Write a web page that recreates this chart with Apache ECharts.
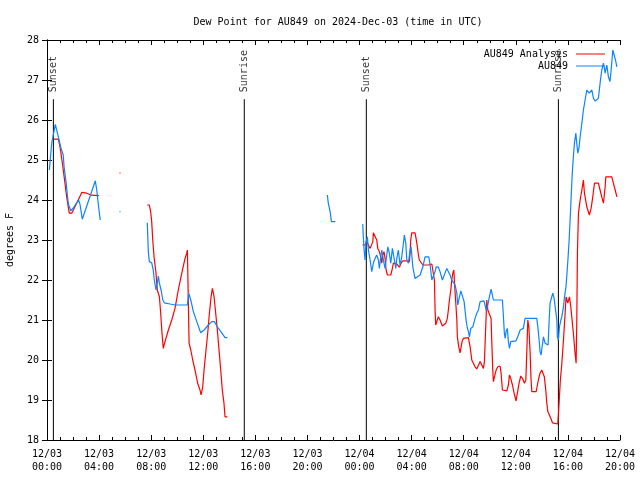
<!DOCTYPE html>
<html>
<head>
<meta charset="utf-8">
<script src="https://cdn.jsdelivr.net/npm/echarts@6/dist/echarts.min.js"></script>
<style>html,body{margin:0;padding:0;background:#fff}#c{width:640px;height:480px}</style>
</head>
<body>
<div id="c"></div>
<script>
// Hours since 2024-12-03 00:00 UTC, dew point in degrees F. null = gap in data.
const analysisPoints = [
  [0.48,25.52],[0.87,25.52],[1.00,25.33],[1.18,24.92],[1.38,24.42],[1.51,24.08],[1.71,23.67],[1.90,23.67],
  [2.28,23.92],[2.67,24.19],[3.05,24.17],[3.43,24.12],[3.99,24.11],
  null,
  [5.57,24.67],[5.64,24.67],
  null,
  [7.70,23.875],[7.86,23.875],[7.96,23.71],[8.04,23.46],[8.12,23.0],[8.22,22.58],[8.37,22.17],[8.47,21.75],
  [8.63,21.58],[8.73,21.17],[8.83,20.67],[8.93,20.29],[9.06,20.46],[9.32,20.75],[9.58,21.0],[9.83,21.29],
  [10.08,21.75],[10.35,22.17],[10.60,22.54],[10.73,22.67],[10.78,22.75],[10.85,21.5],[10.91,20.42],[11.04,20.25],
  [11.19,20.0],[11.39,19.71],[11.57,19.42],[11.75,19.25],[11.83,19.125],[11.96,19.33],[12.06,19.75],[12.21,20.25],
  [12.34,20.67],[12.47,21.17],[12.60,21.58],[12.70,21.79],[12.83,21.58],[12.93,21.25],[13.08,20.75],[13.21,20.25],
  [13.34,19.75],[13.46,19.25],[13.59,18.92],[13.67,18.58],[13.85,18.58],
  null,
  [24.22,22.875],[24.42,22.875],[24.55,22.96],[24.68,22.875],[24.81,22.79],[24.94,22.77],[25.02,22.96],[25.06,23.18],
  [25.21,23.18],[25.32,23.0],[25.40,22.79],[25.52,22.71],[25.63,22.58],[25.71,22.42],[25.78,22.625],[25.88,22.71],
  [25.96,22.54],[26.04,22.25],[26.14,22.125],[26.40,22.125],[26.52,22.29],[26.60,22.42],[26.73,22.375],[26.86,22.4],
  [26.98,22.35],[27.06,22.32],[27.19,22.42],[27.32,22.48],[27.44,22.5],[27.63,22.48],[27.83,22.46],[27.88,22.67],
  [27.93,23.0],[28.01,23.18],[28.26,23.18],[28.34,23.04],[28.44,22.83],[28.52,22.625],[28.59,22.5],[28.70,22.46],
  [28.86,22.375],[28.96,22.35],[29.29,22.375],[29.55,22.4],[29.67,22.375],[29.75,22.0],[29.80,21.25],[29.85,20.875],
  [29.93,20.96],[30.05,21.08],[30.18,21.0],[30.36,20.85],[30.51,20.85],[30.62,20.92],[30.74,21.04],[30.82,21.25],
  [30.90,21.5],[31.01,21.75],[31.08,22.0],[31.16,22.17],[31.24,22.25],[31.28,22.0],[31.34,21.67],[31.41,21.33],
  [31.47,21.0],[31.51,20.58],[31.62,20.33],[31.72,20.18],[31.80,20.18],[31.87,20.46],[31.97,20.54],[32.36,20.56],
  [32.49,20.33],[32.62,20.0],[32.74,19.92],[32.87,19.83],[33.00,19.775],[33.13,19.775],[33.26,19.96],[33.39,19.875],
  [33.51,19.79],[33.59,19.96],[33.66,20.58],[33.77,21.5],[33.85,21.25],[33.97,21.21],[34.10,21.04],[34.15,20.5],
  [34.23,19.75],[34.28,19.46],[34.36,19.58],[34.49,19.75],[34.62,19.83],[34.79,19.85],[34.87,19.67],[34.97,19.25],
  [35.31,19.23],[35.43,19.375],[35.51,19.625],[35.61,19.54],[35.74,19.375],[35.87,19.17],[36.02,18.975],[36.12,19.17],
  [36.25,19.42],[36.38,19.6],[36.54,19.52],[36.66,19.42],[36.77,19.5],[36.84,20.17],[36.92,21.0],[37.00,20.83],
  [37.10,20.17],[37.17,19.5],[37.23,19.21],[37.56,19.21],[37.66,19.375],[37.73,19.5],[37.86,19.67],[37.99,19.75],
  [38.12,19.775],[38.19,19.58],[38.30,19.25],[38.38,18.92],[38.46,18.71],[38.58,18.67],[38.69,18.54],[38.81,18.43],
  [38.96,18.4],[39.22,18.4],[39.27,18.625],[39.35,19.08],[39.42,19.5],[39.53,19.9],[39.66,20.5],[39.79,21.2],
  [39.86,21.58],[39.99,21.42],[40.12,21.58],[40.22,21.33],[40.32,21.0],[40.42,20.67],[40.55,20.17],[40.63,19.92],
  [40.68,20.92],[40.73,22.67],[40.81,23.67],[40.94,24.0],[41.07,24.25],[41.19,24.5],[41.27,24.17],[41.45,23.83],
  [41.65,23.625],[41.78,23.79],[41.91,24.08],[42.04,24.42],[42.34,24.42],[42.47,24.25],[42.60,24.08],[42.73,23.92],
  [42.86,24.33],[42.91,24.58],[43.37,24.58],[43.49,24.42],[43.63,24.25],[43.76,24.08]
];
const stationPoints = [
  [0.18,24.75],[0.36,25.42],[0.64,25.89],[0.87,25.58],[1.08,25.29],[1.25,25.12],[1.31,24.83],[1.46,24.46],
  [1.51,24.3],[1.64,23.9],[1.82,23.73],[2.02,23.8],[2.42,24.0],[2.53,23.9],[2.71,23.52],[3.71,24.48],
  [3.82,24.25],[3.96,23.83],[4.09,23.5],
  null,
  [5.57,23.71],[5.64,23.71],
  null,
  [7.70,23.43],[7.78,22.71],[7.86,22.46],[8.04,22.43],[8.16,22.25],[8.24,22.0],[8.37,21.75],[8.47,21.92],
  [8.55,22.1],[8.63,21.92],[8.76,21.75],[8.89,21.5],[9.01,21.43],[9.45,21.4],[9.83,21.375],[10.78,21.375],
  [10.88,21.67],[11.04,21.5],[11.24,21.21],[11.50,20.96],[11.80,20.68],[12.06,20.75],[12.39,20.875],[12.65,20.96],
  [12.85,20.96],[13.08,20.83],[13.42,20.68],[13.67,20.56],[13.85,20.56],
  null,
  [21.53,24.125],[21.60,23.92],[21.74,23.71],[21.84,23.46],[22.14,23.46],
  null,
  [24.25,23.4],[24.29,23.08],[24.35,22.75],[24.42,22.5],[24.50,22.96],[24.60,23.08],[24.68,22.75],[24.81,22.5],
  [24.94,22.21],[25.06,22.42],[25.19,22.54],[25.32,22.625],[25.45,22.5],[25.52,22.29],[25.63,22.58],[25.71,22.75],
  [25.83,22.5],[25.96,22.29],[26.09,22.625],[26.17,22.83],[26.29,22.67],[26.40,22.42],[26.52,22.79],[26.60,22.79],
  [26.68,22.5],[26.78,22.29],[26.88,22.58],[26.98,22.75],[27.11,22.375],[27.24,22.58],[27.37,22.92],[27.44,23.125],
  [27.55,22.92],[27.63,22.5],[27.75,22.42],[27.88,22.75],[27.96,22.83],[28.09,22.33],[28.26,22.04],[28.39,22.02],
  [28.65,22.125],[28.86,22.33],[29.03,22.58],[29.32,22.58],[29.42,22.375],[29.55,22.0],[29.67,21.98],[29.80,22.21],
  [29.88,22.33],[30.05,22.32],[30.18,22.21],[30.36,22.0],[30.49,22.0],[30.70,22.29],[30.82,22.25],[30.95,22.125],
  [31.08,22.0],[31.21,21.96],[31.34,21.875],[31.47,21.67],[31.54,21.375],[31.67,21.58],[31.78,21.73],[31.93,21.73],
  [32.03,21.46],[32.18,21.0],[32.28,20.8],[32.36,20.71],[32.44,20.58],[32.54,20.79],[32.70,20.83],[32.87,21.04],
  [33.00,21.17],[33.13,21.25],[33.26,21.46],[33.33,21.46],[33.56,21.48],[33.72,21.25],[33.82,21.33],[33.97,21.58],
  [34.10,21.77],[34.20,21.625],[34.28,21.5],[34.97,21.5],[35.05,21.08],[35.12,20.67],[35.18,20.54],[35.25,20.71],
  [35.35,20.79],[35.43,20.46],[35.51,20.29],[35.61,20.46],[35.69,20.48],[36.02,20.48],[36.20,20.625],[36.33,20.75],
  [36.58,20.79],[36.71,21.04],[37.61,21.04],[37.69,20.83],[37.79,20.5],[37.86,20.21],[37.94,20.125],[38.02,20.33],
  [38.12,20.58],[38.25,20.42],[38.33,20.375],[38.48,20.375],[38.56,21.0],[38.63,21.42],[38.76,21.58],[38.84,21.67],
  [38.94,21.54],[39.02,21.33],[39.15,21.0],[39.19,20.58],[39.27,20.5],[39.35,20.83],[39.46,21.0],[39.53,21.08],
  [39.66,21.33],[39.74,21.58],[39.85,21.83],[39.93,22.17],[40.00,22.5],[40.08,22.92],[40.17,23.5],[40.25,24.08],
  [40.32,24.58],[40.40,25.0],[40.50,25.42],[40.61,25.67],[40.68,25.42],[40.76,25.17],[40.86,25.33],[40.94,25.58],
  [41.07,25.92],[41.19,26.25],[41.32,26.5],[41.45,26.75],[41.53,26.79],[41.63,26.67],[41.71,26.71],[41.84,26.75],
  [41.96,26.54],[42.09,26.475],[42.34,26.54],[42.47,26.92],[42.60,27.25],[42.73,27.42],[42.86,27.17],[42.99,27.375],
  [43.11,27.08],[43.23,26.96],[43.32,27.25],[43.45,27.75],[43.55,27.625],[43.68,27.46],[43.76,27.33]
];
const sunEventHours = [0.49, 15.15, 24.52, 39.27];
const sunEventNames = ['Sunset', 'Sunrise', 'Sunset', 'Sunrise'];
const sunLineBottom = 18, sunLineTop = 26.52;
const xMin = 0, xMax = 44, xStep = 4;
const yMin = 18, yMax = 28, yStep = 1;
const seriesNames = ['AU849 Analysis', 'AU849'];
const seriesColors = ['#ff0000', '#0a84ff'];

const FONT = 'DejaVu Sans Mono';
function toData(pts) {
  const out = [];
  let last = 0;
  pts.forEach(p => { if (p === null) out.push([last, null]); else { out.push(p); last = p[0]; } });
  return out;
}
function fmtX(v) {
  const day = 3 + Math.floor(v / 24);
  const hh = Math.round(v % 24);
  return '12/' + String(day).padStart(2, '0') + '\n' + String(hh).padStart(2, '0') + ':00';
}
const axisCommonX = {
  type: 'value', min: xMin, max: xMax, interval: xStep,
  axisLine: { show: true, lineStyle: { color: '#000', width: 1 } },
  axisTick: { show: true, inside: true, length: 5, lineStyle: { color: '#000' } },
  minorTick: { show: true, splitNumber: 4, length: 3, lineStyle: { color: '#000' } },
  splitLine: { show: false }, minorSplitLine: { show: false }
};
const axisCommonY = {
  type: 'value', min: yMin, max: yMax, interval: yStep,
  axisLine: { show: true, lineStyle: { color: '#000', width: 1 } },
  axisTick: { show: true, inside: true, length: 5, lineStyle: { color: '#000' } },
  splitLine: { show: false }
};
const series = [0, 1].map(i => ({
  name: seriesNames[i], type: 'line', data: toData(i === 0 ? analysisPoints : stationPoints),
  symbol: 'none', showSymbol: false, connectNulls: false,
  lineStyle: { color: seriesColors[i], width: 1.2 }, itemStyle: { color: seriesColors[i] },
  animation: false, z: 3
}));
sunEventHours.forEach((h, i) => {
  series.push({
    type: 'line', data: [[h, sunLineBottom], [h, sunLineTop]], symbol: 'none', silent: true,
    lineStyle: { color: '#000', width: 1 }, animation: false, z: 2
  });
  series.push({
    type: 'scatter', data: [[h, sunLineTop]], symbolSize: 0, silent: true, animation: false,
    label: {
      show: true, formatter: sunEventNames[i], position: 'top', distance: 7, rotate: 90,
      align: 'left', verticalAlign: 'middle', color: '#000', fontFamily: FONT, fontSize: 10
    }
  });
});
function legendFor(i, top) {
  return {
    data: [seriesNames[i]], right: 30, top: top, align: 'right', icon: 'rect',
    itemWidth: 29, itemHeight: 1, itemStyle: { color: seriesColors[i] }, selectedMode: false,
    textStyle: { fontFamily: FONT, fontSize: 10, color: '#000', padding: [0, 3, 0, 0] }
  };
}
const chart = echarts.init(document.getElementById('c'), null, { renderer: 'canvas' });
chart.setOption({
  backgroundColor: '#fff',
  animation: false,
  title: {
    text: 'Dew Point for AU849 on 2024-Dec-03 (time in UTC)', left: 333, top: 12, textAlign: 'center',
    textStyle: { fontFamily: FONT, fontSize: 10, fontWeight: 'normal', color: '#000' }
  },
  legend: [legendFor(0, 44), legendFor(1, 56)],
  grid: { left: 47, right: 20, top: 40, bottom: 40, containLabel: false, outerBoundsMode: 'none' },
  xAxis: [
    Object.assign({}, axisCommonX, { position: 'bottom',
      axisLabel: { formatter: fmtX, color: '#000', fontFamily: FONT, fontSize: 10, margin: 8, lineHeight: 13 } }),
    Object.assign({}, axisCommonX, { position: 'top', axisLabel: { show: false } })
  ],
  yAxis: [
    Object.assign({}, axisCommonY, { position: 'left', name: 'degrees F', nameLocation: 'middle', nameGap: 32,
      nameTextStyle: { fontFamily: FONT, fontSize: 10, color: '#000' },
      axisLabel: { color: '#000', fontFamily: FONT, fontSize: 10, margin: 8 } }),
    Object.assign({}, axisCommonY, { position: 'right', axisLabel: { show: false } })
  ],
  series: series
});
</script>
</body>
</html>
